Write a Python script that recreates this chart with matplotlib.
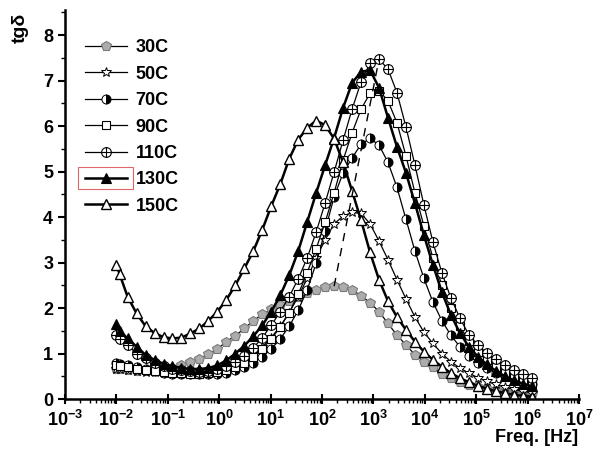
import numpy as np
import matplotlib
matplotlib.use('Agg')
import matplotlib.pyplot as plt
from matplotlib.path import Path
from matplotlib.patches import Rectangle
from matplotlib.ticker import LogLocator, FuncFormatter, MultipleLocator, NullFormatter

plt.rcParams['font.family'] = ['Liberation Sans', 'DejaVu Sans']
plt.rcParams['mathtext.fontset'] = 'custom'
plt.rcParams['mathtext.rm'] = 'Liberation Sans'
plt.rcParams['mathtext.bf'] = 'Liberation Sans:bold'
plt.rcParams['mathtext.it'] = 'Liberation Sans:italic'

# ---------------- data ----------------
freq = [0.01, 0.0115, 0.0165, 0.0247, 0.0369, 0.0552, 0.0825, 0.1234, 0.1844, 0.2757,
        0.4124, 0.6166, 0.922, 1.378, 2.062, 3.083, 4.609, 6.892, 10.30, 15.41,
        23.04, 34.45, 51.51, 77.02, 115.2, 172.2, 257.5, 385.0, 575.7, 861.0,
        1287, 1925, 2878, 4304, 6436, 9623, 14390, 21510, 32170, 48110,
        71930, 107600, 160800, 240400, 359500, 537600, 803900, 1202000]

tg_30C = [0.65, 0.65, 0.63, 0.62, 0.61, 0.61, 0.63, 0.68, 0.75, 0.82,
          0.88, 0.99, 1.10, 1.26, 1.39, 1.55, 1.72, 1.86, 1.97, 2.07,
          2.15, 2.25, 2.32, 2.40, 2.46, 2.48, 2.47, 2.40, 2.27, 2.12,
          1.92, 1.66, 1.40, 1.19, 0.97, 0.82, 0.70, 0.56, 0.46, 0.38,
          0.31, 0.26, 0.22, 0.19, 0.16, 0.14, 0.12, 0.10]
tg_50C = [0.66, 0.65, 0.63, 0.62, 0.60, 0.59, 0.58, 0.57, 0.57, 0.57,
          0.58, 0.60, 0.63, 0.68, 0.75, 0.85, 0.98, 1.14, 1.35, 1.60,
          1.90, 2.25, 2.65, 3.10, 3.50, 3.85, 4.02, 4.10, 4.08, 3.85,
          3.47, 3.06, 2.62, 2.20, 1.80, 1.47, 1.22, 1.00, 0.82, 0.68,
          0.57, 0.47, 0.39, 0.32, 0.26, 0.21, 0.17, 0.14]
tg_70C = [0.80, 0.78, 0.75, 0.70, 0.65, 0.61, 0.58, 0.56, 0.55, 0.54,
          0.54, 0.54, 0.55, 0.58, 0.63, 0.70, 0.80, 0.93, 1.10, 1.32,
          1.60, 1.95, 2.40, 2.98, 3.70, 4.45, 4.97, 5.30, 5.60, 5.73,
          5.58, 5.20, 4.65, 3.95, 3.25, 2.65, 2.13, 1.72, 1.40, 1.15,
          0.95, 0.80, 0.68, 0.58, 0.50, 0.43, 0.37, 0.32]
tg_90C = [0.75, 0.73, 0.70, 0.67, 0.64, 0.61, 0.59, 0.58, 0.57, 0.56,
          0.56, 0.57, 0.59, 0.63, 0.70, 0.80, 0.93, 1.10, 1.32, 1.58,
          1.90, 2.30, 2.78, 3.30, 3.89, 4.53, 5.25, 5.85, 6.37, 6.72,
          6.78, 6.55, 6.07, 5.34, 4.53, 3.80, 3.10, 2.50, 2.00, 1.60,
          1.28, 1.03, 0.85, 0.70, 0.58, 0.48, 0.40, 0.34]
tg_110C = [1.40, 1.32, 1.18, 1.00, 0.90, 0.80, 0.72, 0.66, 0.63, 0.61,
           0.60, 0.61, 0.65, 0.72, 0.82, 0.95, 1.12, 1.35, 1.62, 1.92,
           2.25, 2.64, 3.10, 3.67, 4.31, 4.99, 5.69, 6.37, 6.97, 7.38,
           7.47, 7.25, 6.73, 5.98, 5.14, 4.26, 3.45, 2.77, 2.22, 1.78,
           1.41, 1.19, 1.01, 0.88, 0.75, 0.64, 0.55, 0.47]
tg_130C = [1.65, 1.50, 1.33, 1.15, 0.97, 0.86, 0.77, 0.72, 0.68, 0.66,
           0.66, 0.68, 0.74, 0.85, 1.00, 1.17, 1.38, 1.62, 1.92, 2.28,
           2.72, 3.25, 3.89, 4.53, 5.14, 5.74, 6.40, 6.95, 7.19, 7.23,
           6.84, 6.18, 5.54, 4.97, 4.30, 3.60, 2.95, 2.35, 1.85, 1.45,
           1.15, 0.93, 0.76, 0.62, 0.50, 0.41, 0.34, 0.28]
tg_150C = [2.95, 2.75, 2.25, 1.88, 1.60, 1.45, 1.36, 1.33, 1.35, 1.44,
           1.55, 1.72, 1.92, 2.18, 2.50, 2.87, 3.25, 3.72, 4.24, 4.72,
           5.28, 5.70, 5.96, 6.12, 6.02, 5.72, 5.20, 4.57, 3.93, 3.22,
           2.62, 2.15, 1.80, 1.52, 1.26, 1.04, 0.86, 0.71, 0.57, 0.46,
           0.37, 0.29, 0.23, 0.17, 0.13, 0.09, 0.07, 0.05]

labels = ['30C', '50C', '70C', '90C', '110C', '130C', '150C']
series = [tg_30C, tg_50C, tg_70C, tg_90C, tg_110C, tg_130C, tg_150C]
x_ticks_exp = list(range(-3, 8))
y_ticks = list(range(0, 9))

# ---------------- figure ----------------
fig = plt.figure(figsize=(6.01, 4.59), dpi=100)
ax = fig.add_axes([65 / 601, 60 / 459, 514 / 601, 389 / 459])

oplus = Path.make_compound_path(
    Path.unit_circle(),
    Path([[-1, 0], [1, 0]], [Path.MOVETO, Path.LINETO]),
    Path([[0, -1], [0, 1]], [Path.MOVETO, Path.LINETO]))

styles = [
    dict(marker='p', mfc='#acacac', mec='#7a7a7a', ms=7, lw=0.9, mew=0.8),
    dict(marker='*', mfc='white', mec='black', ms=7, lw=0.9, mew=0.7),
    dict(marker='o', mfc='black', mfcalt='white', fillstyle='right', mec='black', ms=6.5, lw=0.9, mew=0.7),
    dict(marker='s', mfc='white', mec='black', ms=5.5, lw=0.9, mew=0.8),
    dict(marker=oplus, mfc='white', mec='black', ms=7, lw=0.9, mew=0.8),
    dict(marker='^', mfc='black', mec='black', ms=7, lw=1.8, mew=0.8),
    dict(marker='^', mfc='white', mec='black', ms=7, lw=1.8, mew=1.0),
]

f = np.array(freq)
for lab, ys, st in zip(labels, series, styles):
    st = dict(st)
    kw = dict(color='black', marker=st.pop('marker'), markersize=st.pop('ms'),
              linewidth=st.pop('lw'), markeredgewidth=st.pop('mew'),
              markerfacecolor=st.pop('mfc'), markeredgecolor=st.pop('mec'))
    if 'mfcalt' in st:
        kw['markerfacecoloralt'] = st.pop('mfcalt')
    if 'fillstyle' in st:
        kw['fillstyle'] = st.pop('fillstyle')
    ax.plot(f, ys, label=lab, **kw)

# dashed guide through the peaks of 30C and 110C
i_a = int(np.argmax(tg_30C))
i_b = int(np.argmax(tg_110C))
ax.plot([f[i_a], f[i_b]], [tg_30C[i_a], tg_110C[i_b]], color='black',
        linestyle=(0, (6, 5)), linewidth=1.0, zorder=5)

ax.set_xscale('log')
ax.set_xlim(10.0 ** x_ticks_exp[0], 10.0 ** x_ticks_exp[-1])
ax.set_ylim(0, 8.55)
ax.set_xticks([10.0 ** e for e in x_ticks_exp])
ax.xaxis.set_minor_locator(LogLocator(base=10, subs=np.arange(2, 10), numticks=30))
ax.xaxis.set_minor_formatter(NullFormatter())
ax.xaxis.set_major_formatter(FuncFormatter(lambda v, p: r'$\mathbf{10^{%d}}$' % round(np.log10(v))))
ax.set_yticks(y_ticks)
ax.yaxis.set_minor_locator(MultipleLocator(0.5))

for s in ['top', 'right']:
    ax.spines[s].set_visible(False)
for s in ['left', 'bottom']:
    ax.spines[s].set_linewidth(1.8)

ax.tick_params(axis='x', which='major', direction='inout', length=7, width=1.5, labelsize=13, pad=4)
ax.tick_params(axis='x', which='minor', direction='out', length=3, width=1.0)
ax.tick_params(axis='y', which='major', direction='out', length=5, width=1.5, labelsize=13)
ax.tick_params(axis='y', which='minor', direction='out', length=3, width=1.0)
for t in ax.get_yticklabels():
    t.set_fontweight('bold')

fig.text(20 / 601, 1 - 28 / 459, 'tgδ', rotation=90, ha='center', va='center',
         fontsize=14, fontweight='bold')
fig.text(578 / 601, 1 - 437 / 459, 'Freq. [Hz]', ha='right', va='center',
         fontsize=13, fontweight='bold')

leg = ax.legend(loc='upper left', bbox_to_anchor=(0.025, 0.943), frameon=False,
                prop=dict(weight='bold', size=13), handlelength=2.3,
                handletextpad=0.5, labelspacing=0.52, numpoints=1, borderaxespad=0)

fig.canvas.draw()
r = fig.canvas.get_renderer()
ext = leg.get_lines()[5].get_window_extent(r)
cy = 0.5 * (ext.y0 + ext.y1)
x0, x1 = ext.x0 - 2, ext.x1 + 2
y0, y1 = cy - 11, cy + 11
inv = fig.transFigure.inverted()
(fx0, fy0), (fx1, fy1) = inv.transform([(x0, y0), (x1, y1)])
fig.patches.append(Rectangle((fx0, fy0), fx1 - fx0, fy1 - fy0, transform=fig.transFigure,
                             fill=False, edgecolor='#e06666', linewidth=0.8))

fig.savefig('out.png', dpi=100)
